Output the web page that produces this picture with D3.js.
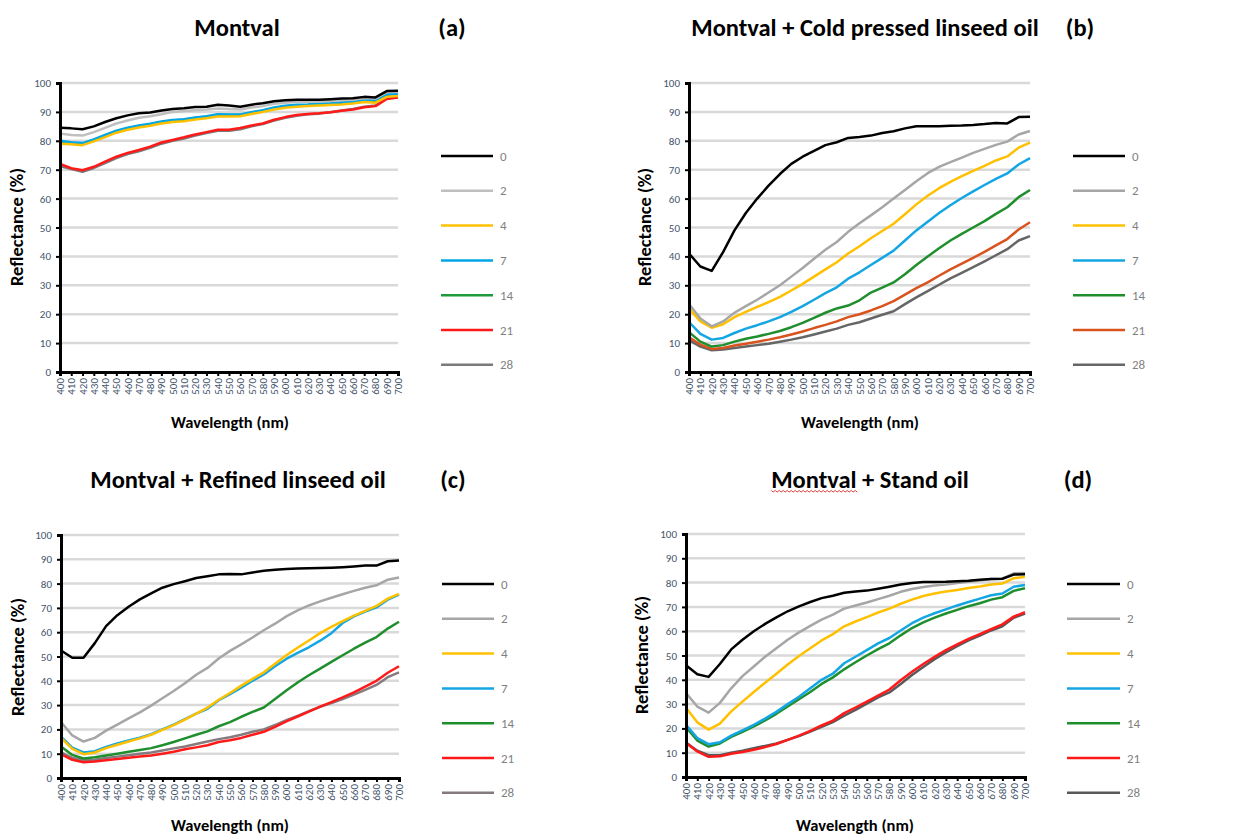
<!DOCTYPE html>
<html>
<head>
<meta charset="utf-8">
<script src="https://cdn.jsdelivr.net/npm/d3@7"></script>
<style>
  body { margin: 0; background: #fff; }
  svg { display: block; font-family: Carlito, Calibri, Lato, "Open Sans", sans-serif; }
</style>
</head>
<body>
<div id="chart"></div>
<script>
// wavelengths (nm) and ageing days
var wavelengths = d3.range(400, 701, 10);
var days = ["0", "2", "4", "7", "14", "21", "28"];

// reflectance (%) per day, one row per day in the order of `days`
var montval = [
  [84.5,84.3,84,85,86.5,87.8,88.8,89.5,89.8,90.5,91,91.3,91.7,91.8,92.5,92.2,91.8,92.5,93,93.7,94,94.2,94.2,94.2,94.4,94.6,94.7,95.2,95,97.2,97.3],
  [82.5,82,81.8,83,84.5,86,87,88,88.5,89.2,90,90.3,90.6,90.8,91.2,91,90.8,91.5,92,92.8,93.2,93.5,93.5,93.6,93.8,94,94.2,94.8,94.6,96.8,97],
  [79,78.8,78.5,79.8,81.3,82.8,83.8,84.6,85.2,86,86.5,86.8,87.4,87.8,88.4,88.4,88.5,89.3,90,90.8,91.4,91.8,92,92.2,92.4,92.6,92.9,93.4,93.2,95.2,95.5],
  [80,79.5,79.2,80.5,82,83.5,84.5,85.3,85.9,86.7,87.2,87.5,88.1,88.5,89.2,89.1,89.1,89.9,90.6,91.5,92.1,92.5,92.6,92.8,93,93.3,93.5,94.2,94,96,96.3],
  [79.8,79.2,79,80.3,81.8,83.2,84.2,85,85.6,86.4,87,87.3,87.9,88.3,89,88.9,88.9,89.7,90.4,91.3,91.9,92.3,92.4,92.6,92.8,93.1,93.3,94,93.8,95.9,96.4],
  [72,70.5,69.8,71,72.8,74.5,75.8,76.8,78,79.4,80.3,81.2,82.2,83,83.8,83.8,84.4,85.3,86,87.3,88.2,88.9,89.3,89.5,89.9,90.4,90.8,91.6,92,94.5,95],
  [71.3,70.2,69.3,70.6,72.3,74,75.4,76.4,77.6,79,80,80.8,81.8,82.7,83.5,83.5,84,85,85.8,87,88,88.7,89.2,89.4,89.9,90.5,91,91.8,92.2,94.9,95.3]
];

var coldPressed = [
  [41,36.5,35,41.5,49,55,60,64.5,68.5,72,74.5,76.5,78.5,79.5,81,81.3,81.8,82.7,83.3,84.3,85,85,85,85.2,85.3,85.5,85.8,86.2,86,88.2,88.3],
  [23.5,18.5,15.8,17.5,20.5,22.8,25,27.5,30,33,36,39.2,42.3,45,48.5,51.5,54.2,57,60,63,66,68.8,71,72.6,74.2,75.8,77.2,78.6,79.7,82.2,83.4],
  [22,17.5,15.3,16.5,19,20.8,22.5,24.2,26,28.2,30.5,33,35.5,38,41,43.5,46.3,48.8,51.3,54.6,58,61,63.6,65.8,67.8,69.6,71.3,73.2,74.6,77.6,79.4],
  [17.3,13.2,11.2,11.8,13.5,15,16.2,17.5,19,20.8,22.8,25,27.3,29.3,32.3,34.5,37,39.5,42,45.5,49,52,55,57.7,60.2,62.5,64.7,66.8,68.7,71.8,74],
  [13.8,10.5,8.8,9.3,10.5,11.5,12.3,13.2,14.2,15.5,17,18.7,20.5,22,23,24.8,27.5,29.2,31,33.8,37,40,42.8,45.5,47.8,50,52.2,54.7,57,60.5,63],
  [12,9.5,8,8.3,9.2,9.8,10.5,11.2,12,13,14,15.2,16.3,17.5,19,20,21.3,22.8,24.5,26.8,29,31,33.3,35.5,37.5,39.5,41.6,43.8,46,49.3,51.8],
  [11,8.8,7.5,7.8,8.3,8.8,9.3,9.8,10.5,11.2,12,13,14,15,16.3,17.2,18.5,19.8,21,23.5,25.8,28,30.2,32.4,34.3,36.3,38.3,40.4,42.5,45.5,47]
];

var refined = [
  [52.5,49.5,49.5,55.5,62.5,67,70.5,73.5,76,78.3,79.8,81,82.3,83,83.8,84,83.8,84.6,85.3,85.7,86,86.2,86.3,86.4,86.5,86.7,87,87.4,87.4,89.2,89.5],
  [23,17.5,15,16.5,19.5,22,24.5,27,29.8,32.8,35.8,39,42.5,45.3,49.2,52.3,55,57.8,60.8,63.5,66.5,69,71,72.7,74.2,75.6,77,78.3,79.3,81.6,82.5],
  [16.5,12,9.8,10.5,12.3,13.7,15,16.3,17.8,19.8,21.8,24,26.5,29,32.2,35,38,40.8,43.5,47,50.5,53.6,56.6,59.6,62.2,64.6,66.8,68.8,70.8,73.8,75.8],
  [17,12.5,10.5,11,12.8,14.2,15.4,16.6,18,20,22,24.2,26.5,28.5,32,34.5,37.2,40,42.6,46,49,51.5,53.8,56.5,59.6,63.8,66.5,68.5,70.2,73.4,75.5],
  [13,9.5,8,8.5,9.3,10,10.8,11.5,12.3,13.5,14.8,16.3,17.8,19.2,21.3,23,25.2,27.2,29,32.5,36,39.3,42.3,45,47.8,50.5,53.2,55.7,58,61.5,64.3],
  [9.8,7.5,6.5,6.8,7.3,7.8,8.3,8.8,9.3,10,10.8,11.8,12.6,13.5,14.8,15.5,16.5,17.8,19,21,23.3,25.3,27.3,29.4,31.2,33.2,35.2,37.6,40,43.3,46],
  [10.5,8.3,7.3,7.5,8.2,8.8,9.4,10,10.5,11.3,12.2,13,14,15,16,16.8,17.8,19,20,21.8,23.8,25.6,27.5,29.3,30.8,32.5,34.3,36.3,38.3,41.5,43.5]
];

var standOil = [
  [46,42.3,41.2,46.5,52.5,56.5,60,63,65.7,68.2,70.2,72,73.6,74.6,75.8,76.3,76.7,77.5,78.3,79.2,79.8,80.2,80.2,80.3,80.6,80.8,81.2,81.5,81.6,83.3,83.4],
  [34.5,29,26.5,30.5,36.5,41.5,45.5,49.5,53,56.5,59.5,62.2,64.8,66.8,69.3,70.6,71.8,73.2,74.6,76.2,77.4,78.2,78.8,79.2,79.8,80.3,80.9,81.5,81.6,83.8,84],
  [28.5,22.5,19.5,22,27,31,35,38.8,42.5,46.3,49.8,53,56.2,58.8,62,64,65.8,67.7,69.3,71.3,73,74.5,75.5,76.3,77,77.8,78.4,79.2,79.6,81.8,82.4],
  [21.5,16,13.5,14.3,17,19.2,21.5,24,26.8,30,33,36.5,40,42.5,46.8,49.5,52.2,55,57.2,60.3,63.3,65.6,67.4,69,70.6,72,73.4,74.8,75.5,78.3,79],
  [20.5,15,12.5,13.8,16.5,18.6,20.8,23.3,26,29,32,35,38.3,41,44.3,47.2,50,52.6,55,58.3,61.3,63.6,65.6,67.3,68.8,70.3,71.5,73,74,76.6,77.7],
  [14,10.5,8.3,8.5,9.6,10.3,11.2,12.3,13.6,15.3,17,19,21.2,23.2,26.3,28.6,31,33.5,36,39.8,43.3,46.5,49.5,52.2,54.6,56.8,58.8,60.8,62.8,66,67.8],
  [14.2,10.8,9,9,10,10.8,11.8,12.8,13.8,15.3,16.8,18.7,20.6,22.6,25.2,27.6,30.2,32.8,34.8,38.3,42,45.3,48.5,51.3,53.8,56.2,58.2,60.3,62,65.5,67.3]
];

var yTicks = d3.range(0, 101, 10);

var svg = d3.select('#chart').append('svg')
    .attr('width', 1237)
    .attr('height', 837);

// panel placement
var panels = [
  {title: 'Montval', tag: '(a)', data: montval,
   colors: ['#000000','#bfbfbf','#ffc000','#00a6e6','#1f9a3a','#ff1a1a','#7a7a7a'],
   x0: 60, x1: 398, yb: 372, yt: 83, titleX: 237, titleY: 36, tagX: 452,
   legX: 441, legW: 52, legY: 156, ylabX: 23, ylabY: 227, xlabX: 230, xlabY: 428},
  {title: 'Montval + Cold pressed linseed oil', tag: '(b)', data: coldPressed,
   colors: ['#000000','#a6a6a6','#ffc000','#14a6e3','#1f8f2e','#d9531e','#666666'],
   x0: 689, x1: 1030, yb: 372, yt: 83, titleX: 865, titleY: 36, tagX: 1080,
   legX: 1073, legW: 52, legY: 156, ylabX: 651, ylabY: 227, xlabX: 860, xlabY: 428},
  {title: 'Montval + Refined linseed oil', tag: '(c)', data: refined,
   colors: ['#000000','#a6a6a6','#ffc000','#14a6e3','#1f8f2e','#ff1a1a','#857a7e'],
   x0: 61, x1: 399, yb: 778, yt: 535, titleX: 238, titleY: 488, tagX: 453,
   legX: 442, legW: 52, legY: 584, ylabX: 24, ylabY: 657, xlabX: 230, xlabY: 831},
  {title: 'Montval + Stand oil', tag: '(d)', data: standOil,
   colors: ['#000000','#a6a6a6','#ffc000','#14a6e3','#1f8f2e','#ff1a1a','#595959'],
   x0: 686, x1: 1025, yb: 777, yt: 534, titleX: 870, titleY: 488, tagX: 1078,
   legX: 1067, legW: 53, legY: 584, ylabX: 648, ylabY: 655, xlabX: 855, xlabY: 831,
   squiggle: true}
];

function drawPanel(p) {
  var g = svg.append('g');

  var x = d3.scaleLinear().domain([400, 700]).range([p.x0, p.x1]);
  var y = d3.scaleLinear().domain([0, 100]).range([p.yb, p.yt]);

  // gridlines
  g.selectAll('.grid')
    .data(yTicks.slice(1))
    .enter().append('line')
    .attr('x1', p.x0).attr('x2', p.x1)
    .attr('y1', d => y(d)).attr('y2', d => y(d))
    .attr('stroke', '#d9d9d9')
    .attr('stroke-width', 2.5);

  // series
  var line = d3.line()
    .x((d, i) => x(wavelengths[i]))
    .y(d => y(d));

  g.selectAll('.series')
    .data(p.data.slice().reverse())
    .enter().append('path')
    .attr('d', d => line(d))
    .attr('fill', 'none')
    .attr('stroke', (d, i) => p.colors[p.data.length - 1 - i])
    .attr('stroke-width', 2.5)
    .attr('stroke-linejoin', 'round');

  // y axis
  var yAxis = g.append('g')
    .attr('transform', 'translate(' + p.x0 + ',0)')
    .call(d3.axisLeft(y).tickValues(yTicks).tickSize(4).tickPadding(5));
  yAxis.select('.domain').attr('stroke', '#000').attr('stroke-width', 3);
  yAxis.selectAll('.tick line').attr('stroke', '#000').attr('stroke-width', 2);
  yAxis.selectAll('.tick text')
    .attr('fill', '#44546a')
    .style('font-size', '11px')
    .style('font-family', 'Carlito, Calibri, Lato, sans-serif');

  // x axis
  var xAxis = g.append('g')
    .attr('transform', 'translate(0,' + p.yb + ')')
    .call(d3.axisBottom(x).tickValues(wavelengths).tickSize(4).tickFormat(d3.format('d')));
  xAxis.select('.domain').attr('stroke', '#000').attr('stroke-width', 3);
  xAxis.selectAll('.tick line').attr('stroke', '#000').attr('stroke-width', 2);
  xAxis.selectAll('.tick text')
    .attr('fill', '#44546a')
    .style('font-size', '11px')
    .style('font-family', 'Carlito, Calibri, Lato, sans-serif')
    .attr('text-anchor', 'end')
    .attr('dy', '0.32em')
    .attr('transform', 'translate(0,6) rotate(-90)')
    .attr('x', 0).attr('y', 0);

  // titles
  g.append('text')
    .attr('x', p.titleX).attr('y', p.titleY)
    .attr('text-anchor', 'middle')
    .style('font-size', '24.5px').style('font-weight', 'bold')
    .text(p.title);
  g.append('text')
    .attr('x', p.tagX).attr('y', p.titleY)
    .attr('text-anchor', 'middle')
    .style('font-size', '24.5px').style('font-weight', 'bold')
    .text(p.tag);

  if (p.squiggle) {
    var w = g.append('text')
      .attr('x', p.titleX).attr('y', p.titleY)
      .attr('text-anchor', 'middle')
      .style('font-size', '24.5px').style('font-weight', 'bold')
      .style('visibility', 'hidden')
      .text(p.title);
    var bb = w.node().getBBox();
    var mw = bb.width * 0.44;
    var pts = [];
    for (var s = 0; s <= mw; s += 2) pts.push([bb.x + s, p.titleY + 3 + (s / 2 % 2 ? 1 : -0.5)]);
    g.append('path')
      .attr('d', d3.line()(pts))
      .attr('fill', 'none')
      .attr('stroke', '#e04040')
      .attr('stroke-width', 1);
    w.remove();
  }

  // axis labels
  g.append('text')
    .attr('transform', 'translate(' + p.ylabX + ',' + p.ylabY + ') rotate(-90)')
    .attr('text-anchor', 'middle')
    .style('font-size', '18.5px').style('font-weight', 'bold')
    .text('Reflectance (%)');
  g.append('text')
    .attr('x', p.xlabX).attr('y', p.xlabY)
    .attr('text-anchor', 'middle')
    .style('font-size', '16.5px').style('font-weight', 'bold')
    .text('Wavelength (nm)');

  // legend
  var leg = g.selectAll('.leg')
    .data(days)
    .enter().append('g')
    .attr('transform', (d, i) => 'translate(' + p.legX + ',' + (p.legY + i * 34.8) + ')');
  leg.append('line')
    .attr('x1', 0).attr('x2', p.legW)
    .attr('stroke', (d, i) => p.colors[i])
    .attr('stroke-width', 2.5);
  leg.append('text')
    .attr('x', p.legW + 7).attr('y', 4.5)
    .attr('fill', '#7f7f7f')
    .style('font-size', '13px')
    .text(d => d);
}

panels.forEach(drawPanel);
</script>
</body>
</html>
